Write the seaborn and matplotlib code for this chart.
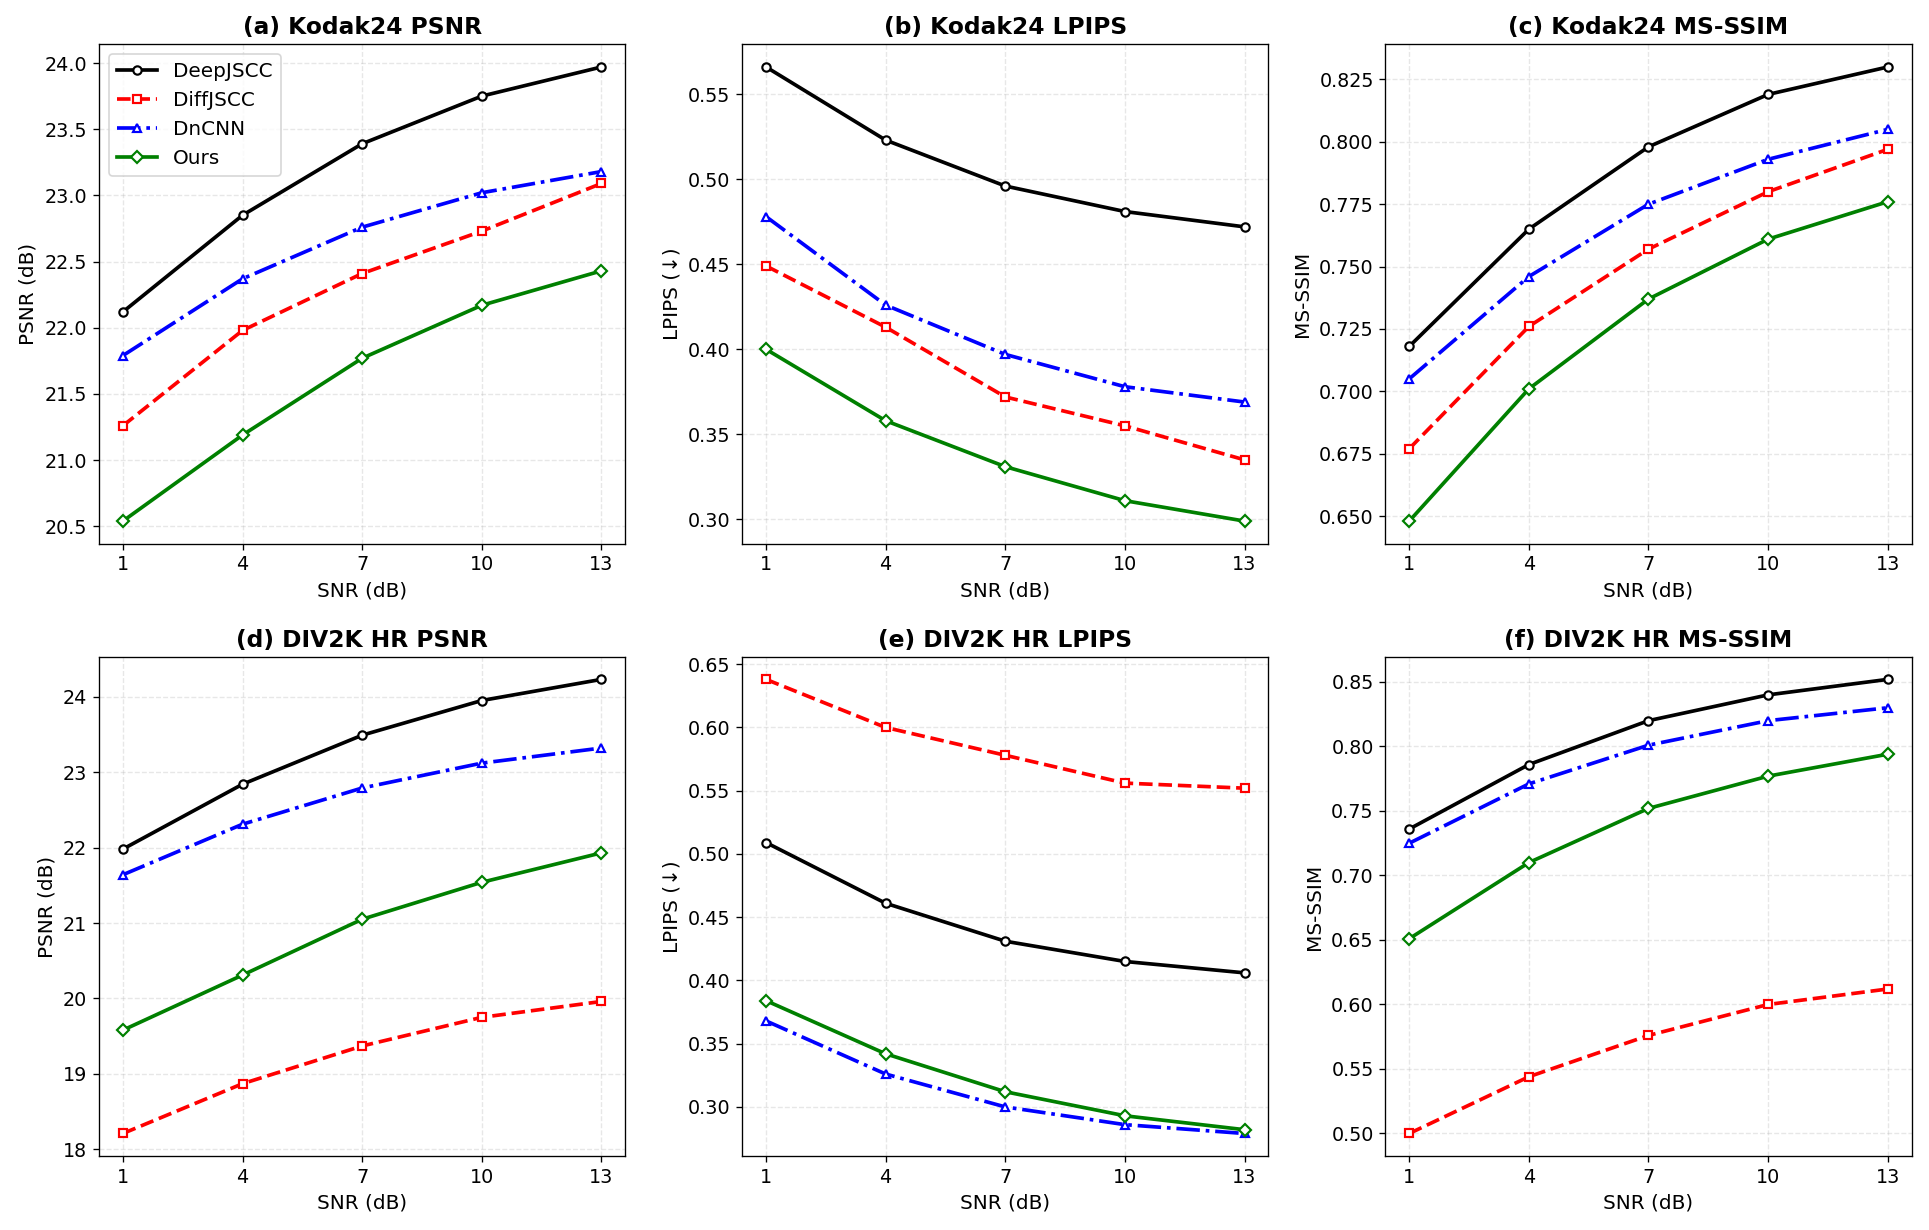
import matplotlib
matplotlib.use("Agg")
import matplotlib.pyplot as plt
import seaborn as sns

snr = [1, 4, 7, 10, 13]
methods = ["DeepJSCC", "DiffJSCC", "DnCNN", "Ours"]

kodak_psnr = {
    "DeepJSCC": [22.12, 22.85, 23.39, 23.75, 23.97],
    "DiffJSCC": [21.26, 21.98, 22.41, 22.73, 23.09],
    "DnCNN": [21.79, 22.37, 22.76, 23.02, 23.18],
    "Ours": [20.54, 21.19, 21.77, 22.17, 22.43],
}
kodak_lpips = {
    "DeepJSCC": [0.566, 0.523, 0.496, 0.481, 0.472],
    "DiffJSCC": [0.449, 0.413, 0.372, 0.355, 0.335],
    "DnCNN": [0.478, 0.426, 0.397, 0.378, 0.369],
    "Ours": [0.400, 0.358, 0.331, 0.311, 0.299],
}
kodak_msssim = {
    "DeepJSCC": [0.718, 0.765, 0.798, 0.819, 0.830],
    "DiffJSCC": [0.677, 0.726, 0.757, 0.780, 0.797],
    "DnCNN": [0.705, 0.746, 0.775, 0.793, 0.805],
    "Ours": [0.648, 0.701, 0.737, 0.761, 0.776],
}
div2k_psnr = {
    "DeepJSCC": [21.98, 22.84, 23.49, 23.95, 24.23],
    "DiffJSCC": [18.21, 18.87, 19.37, 19.75, 19.96],
    "DnCNN": [21.64, 22.31, 22.79, 23.12, 23.32],
    "Ours": [19.58, 20.31, 21.05, 21.54, 21.93],
}
div2k_lpips = {
    "DeepJSCC": [0.509, 0.461, 0.431, 0.415, 0.406],
    "DiffJSCC": [0.638, 0.600, 0.578, 0.556, 0.552],
    "DnCNN": [0.368, 0.326, 0.300, 0.286, 0.279],
    "Ours": [0.384, 0.342, 0.312, 0.293, 0.282],
}
div2k_msssim = {
    "DeepJSCC": [0.736, 0.786, 0.820, 0.840, 0.852],
    "DiffJSCC": [0.500, 0.544, 0.576, 0.600, 0.612],
    "DnCNN": [0.725, 0.771, 0.801, 0.820, 0.830],
    "Ours": [0.651, 0.710, 0.752, 0.777, 0.794],
}

panels = [
    ("(a) Kodak24 PSNR", "PSNR (dB)", kodak_psnr),
    ("(b) Kodak24 LPIPS", "LPIPS (↓)", kodak_lpips),
    ("(c) Kodak24 MS-SSIM", "MS-SSIM", kodak_msssim),
    ("(d) DIV2K HR PSNR", "PSNR (dB)", div2k_psnr),
    ("(e) DIV2K HR LPIPS", "LPIPS (↓)", div2k_lpips),
    ("(f) DIV2K HR MS-SSIM", "MS-SSIM", div2k_msssim),
]

styles = {
    "DeepJSCC": dict(color="black", linestyle="-", marker="o"),
    "DiffJSCC": dict(color="red", linestyle="--", marker="s"),
    "DnCNN": dict(color="blue", linestyle="-.", marker="^"),
    "Ours": dict(color="green", linestyle="-", marker="D"),
}

fig, axes = plt.subplots(2, 3, figsize=(1929 / 120, 1230 / 120), dpi=120)
fig.subplots_adjust(left=0.0513, right=0.991, top=0.964, bottom=0.060, wspace=0.222, hspace=0.226)

for i, (ax, (title, ylabel, data)) in enumerate(zip(axes.flat, panels)):
    for m in methods:
        sns.lineplot(
            x=snr,
            y=data[m],
            ax=ax,
            label=m if i == 0 else None,
            linewidth=2.2,
            markersize=5,
            markerfacecolor="white",
            markeredgewidth=1.3,
            markeredgecolor=styles[m]["color"],
            **styles[m],
        )
    ax.set_title(title, fontsize=14, fontweight="bold")
    ax.set_xlabel("SNR (dB)", fontsize=12)
    ax.set_ylabel(ylabel, fontsize=12)
    ax.set_xticks(snr)
    ax.tick_params(labelsize=11.5)
    ax.grid(True, linestyle="--", alpha=0.3)
    if i == 0:
        ax.legend(loc="upper left", fontsize=12)
    elif ax.get_legend() is not None:
        ax.get_legend().remove()

fig.savefig("out.png", dpi=120)
